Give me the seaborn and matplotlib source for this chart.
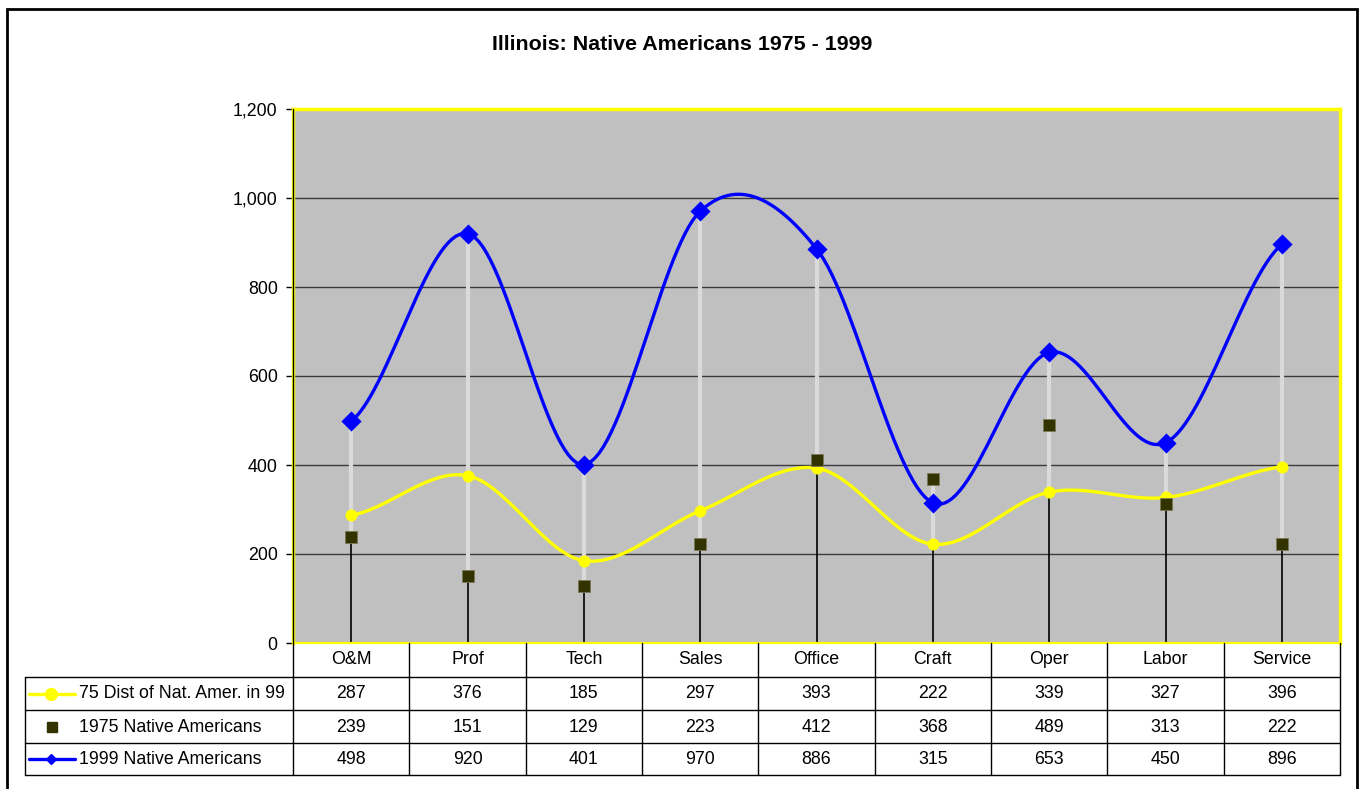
import numpy as np
import matplotlib
matplotlib.use("Agg")
import matplotlib.pyplot as plt
import seaborn as sns
from matplotlib.ticker import FuncFormatter

# ---- data ----
categories = ["O&M", "Prof", "Tech", "Sales", "Office", "Craft", "Oper", "Labor", "Service"]
dist_75_in_99 = [287, 376, 185, 297, 393, 222, 339, 327, 396]
native_1975 = [239, 151, 129, 223, 412, 368, 489, 313, 222]
native_1999 = [498, 920, 401, 970, 886, 315, 653, 450, 896]
series_names = ["75 Dist of Nat. Amer. in 99", "1975 Native Americans", "1999 Native Americans"]
y_ticks = [0, 200, 400, 600, 800, 1000, 1200]
title = "Illinois: Native Americans 1975 - 1999"

sns.set_theme(style="white")
plt.rcParams["font.family"] = ["Liberation Sans", "DejaVu Sans"]
plt.rcParams["text.color"] = "black"
plt.rcParams["ytick.color"] = "black"
plt.rcParams["ytick.labelcolor"] = "black"

FS = 12.8

W, H = 1362, 789
fig = plt.figure(figsize=(W / 100, H / 100), dpi=100)
fig.patch.set_facecolor("white")

# plot-area geometry in pixels
PL, PR, PT, PB = 293, 1340, 109, 643
ax = fig.add_axes([PL / W, (H - PB) / H, (PR - PL) / W, (PB - PT) / H])
ax.set_facecolor("#C0C0C0")
n = len(categories)
x = np.arange(n)
ax.set_xlim(-0.5, n - 0.5)
ax.set_ylim(0, 1200)


def smooth(vals, steps=30):
    """Catmull-Rom spline through the points (Excel-like smoothed line)."""
    p = np.asarray(vals, dtype=float)
    pp = np.concatenate([[p[0]], p, [p[-1]]])
    xs, ys = [], []
    for i in range(len(p) - 1):
        p0, p1, p2, p3 = pp[i], pp[i + 1], pp[i + 2], pp[i + 3]
        t = np.linspace(0, 1, steps, endpoint=False)
        y = 0.5 * ((2 * p1) + (-p0 + p2) * t + (2 * p0 - 5 * p1 + 4 * p2 - p3) * t ** 2
                   + (-p0 + 3 * p1 - 3 * p2 + p3) * t ** 3)
        xs.append(i + t)
        ys.append(y)
    xs.append([len(p) - 1])
    ys.append([p[-1]])
    return np.concatenate(xs), np.concatenate(ys)


# gridlines
for v in y_ticks[1:]:
    ax.axhline(v, color="#3a3a3a", lw=1.0, zorder=1)

# drop lines (axis to lowest value) and high-low lines (lowest to highest)
stack = np.array([dist_75_in_99, native_1975, native_1999])
lo = stack.min(axis=0)
hi = stack.max(axis=0)
ax.vlines(x, 0, lo, color="black", lw=1.2, zorder=2)
ax.vlines(x, lo, hi, color="#DADADA", lw=3.0, zorder=2)

# smoothed lines
xs, ys = smooth(dist_75_in_99)
sns.lineplot(x=xs, y=ys, color="#FFFF00", lw=2.4, sort=False, estimator=None, ax=ax, zorder=3)
xs, ys = smooth(native_1999)
sns.lineplot(x=xs, y=ys, color="#0000FF", lw=2.4, sort=False, estimator=None, ax=ax, zorder=4)

# markers
sns.scatterplot(x=x, y=dist_75_in_99, marker="o", s=75, color="#FFFF00", edgecolor="#FFFF00",
                linewidth=0, ax=ax, zorder=5)
sns.scatterplot(x=x, y=native_1999, marker="D", s=105, color="#0000FF", edgecolor="#0000FF",
                linewidth=0, ax=ax, zorder=6)
sns.scatterplot(x=x, y=native_1975, marker="s", s=70, color="#333300", edgecolor="#7a7a5a",
                linewidth=0.6, ax=ax, zorder=7)

ax.set_xticks([])
ax.set_yticks(y_ticks)
ax.yaxis.set_major_formatter(FuncFormatter(lambda v, _: f"{int(v):,}"))
ax.tick_params(axis="y", direction="out", length=5, width=1, color="black",
               labelsize=FS, labelcolor="black", pad=6, left=True)
for s in ax.spines.values():
    s.set_color("#FFFF00")
    s.set_linewidth(2.5)
ax.spines["bottom"].set_linewidth(1.5)
ax.set_xlabel("")
ax.set_ylabel("")
if ax.get_legend():
    ax.get_legend().remove()

# overlay in pixel coordinates for frame, title and data table
ov = fig.add_axes([0, 0, 1, 1], zorder=10)
ov.set_xlim(0, W)
ov.set_ylim(H, 0)
ov.axis("off")
ov.patch.set_alpha(0)

# chart frame
ov.plot([7, 7, 1357, 1357], [H + 5, 9, 9, H + 5], color="black", lw=2, solid_joinstyle="miter")
# value axis line
ov.plot([PL, PL], [PT, PB], color="black", lw=1)

ov.text(W / 2 + 1, 44, title, ha="center", va="center", fontsize=15.4, fontweight="bold",
        color="black")

# data table
col_w = (PR - PL) / n
rows_y = [PB, 677, 710, 743, 775]
LEG_L = 25
for ry in rows_y[1:]:
    ov.plot([LEG_L, PR], [ry] * 2, color="black", lw=1)
ov.plot([LEG_L, LEG_L], [rows_y[1], rows_y[-1]], color="black", lw=1)
for i in range(n + 1):
    cx = PL + i * col_w
    ov.plot([cx, cx], [PB, rows_y[-1]], color="black", lw=1)

hdr_c = (rows_y[0] + rows_y[1]) / 2
for i, c in enumerate(categories):
    ov.text(PL + (i + 0.5) * col_w, hdr_c, c, ha="center", va="center", fontsize=FS, color="black")

table_rows = [dist_75_in_99, native_1975, native_1999]
for r, vals in enumerate(table_rows):
    cy = (rows_y[r + 1] + rows_y[r + 2]) / 2 + 0.5
    for i, v in enumerate(vals):
        ov.text(PL + (i + 0.5) * col_w, cy, f"{v}", ha="center", va="center", fontsize=FS,
                color="black")
    ov.text(79, cy, series_names[r], ha="left", va="center", fontsize=FS, color="black")

# legend keys
cy0 = (rows_y[1] + rows_y[2]) / 2
cy1 = (rows_y[2] + rows_y[3]) / 2
cy2 = (rows_y[3] + rows_y[4]) / 2
ov.plot([29, 75], [cy0, cy0], color="#FFFF00", lw=2.4)
ov.plot([51], [cy0], marker="o", ms=8.5, color="#FFFF00", mec="#FFFF00")
ov.plot([52], [cy1], marker="s", ms=7, color="#333300", mec="#333300")
ov.plot([29, 75], [cy2, cy2], color="#0000FF", lw=2.4)
ov.plot([51], [cy2], marker="D", ms=5.5, color="#0000FF", mec="#0000FF")

fig.savefig("out.png", dpi=100)
